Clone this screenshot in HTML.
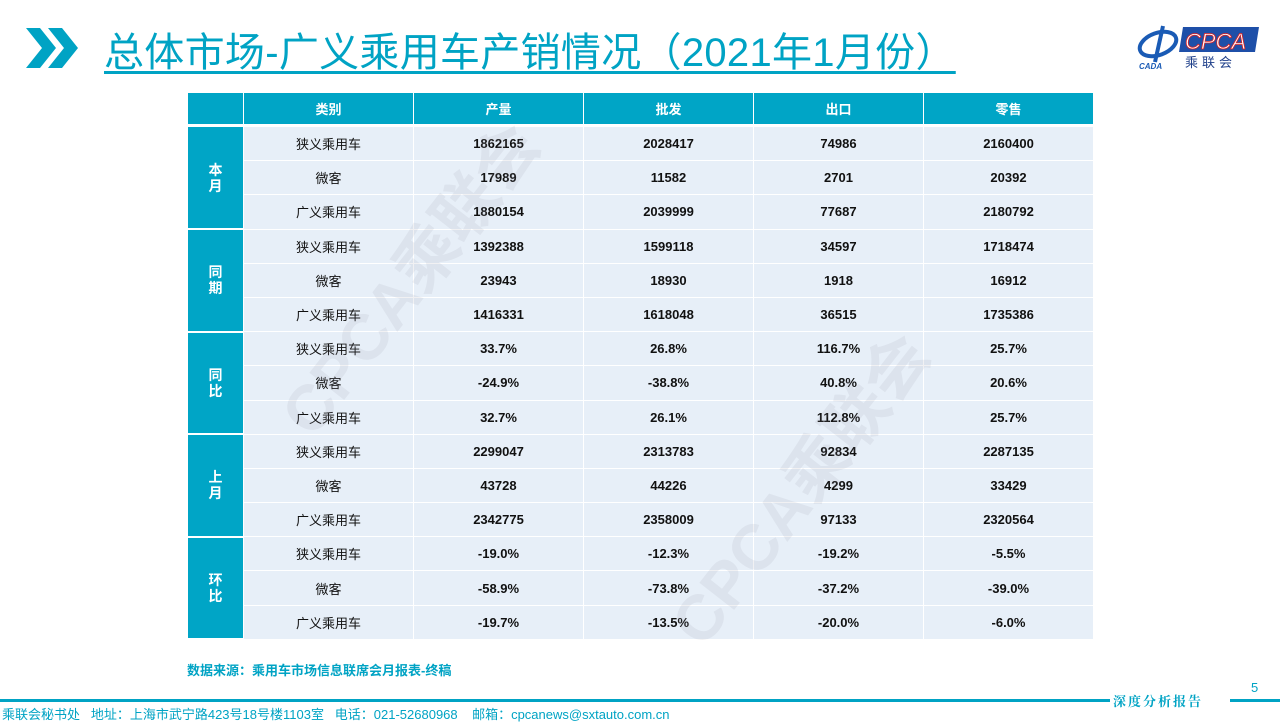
<!DOCTYPE html>
<html><head><meta charset="utf-8"><style>
body{margin:0;width:1280px;height:720px;background:#fff;position:relative;overflow:hidden;font-family:"Liberation Sans","Noto Sans CJK SC",sans-serif}
.title{position:absolute;left:104px;top:20px;font-size:40px;color:#00A3C4;text-decoration:underline;text-decoration-thickness:3px;text-underline-offset:5px;white-space:nowrap;letter-spacing:0.3px}
.chev{position:absolute;left:26px;top:28px}
table{position:absolute;left:187px;top:92px;border-collapse:collapse;table-layout:fixed}
td{border:1px solid #fff;text-align:center;font-size:13px;color:#111;padding:0;background:#E7EFF8}
td.n{font-weight:bold}
tr.h td{background:#00A5C6;color:#fff;font-weight:bold;height:31px;border-bottom:3px solid #fff}
td.g{background:#00A5C6;color:#fff;font-weight:bold;font-size:14px;line-height:16px;border-bottom:2px solid #fff}
tr.b td{height:33.2px}
.wm{position:absolute;font-size:64px;font-weight:bold;color:rgba(150,150,160,0.13);transform:rotate(-52deg);white-space:nowrap;z-index:5}
.src{position:absolute;left:187px;top:660px;font-size:13px;color:#00A3C4;font-weight:bold}
.foot{position:absolute;left:2px;top:704px;font-size:13px;color:#00A3C4;white-space:nowrap}
.line{position:absolute;top:699px;height:3px;background:#00A3C4}
.rep{position:absolute;left:1113px;top:691px;font-size:13px;color:#00A3C4;font-family:"Noto Serif CJK SC",serif;font-weight:bold;letter-spacing:2px}
.pg{position:absolute;left:1251px;top:680px;font-size:13px;color:#00A3C4}
</style></head><body>
<svg class="chev" width="60" height="40" viewBox="0 0 60 40"><polygon points="0,0 14,0 30,20 14,40 0,40 16,20" fill="#00A3C4"/><polygon points="22,0 36,0 52,20 36,40 22,40 38,20" fill="#00A3C4"/></svg>
<div class="title">总体市场-广义乘用车产销情况（2021年1月份）</div>
<svg style="position:absolute;left:1135px;top:22px" width="125" height="50" viewBox="0 0 125 50">
<ellipse cx="23" cy="22" rx="19" ry="11" fill="none" stroke="#1a5bb5" stroke-width="4" transform="rotate(-20 23 22)"/>
<path d="M28 4 L20 40" stroke="#1a5bb5" stroke-width="4"/>
<text x="4" y="47" font-size="8" font-style="italic" font-weight="bold" fill="#1a5bb5" font-family="Liberation Sans">CADA</text>
<polygon points="48,5 124,5 120,30 44,30" fill="#1e4fa8"/>
<text x="50" y="27" font-size="22" font-style="italic" fill="#fff" stroke="#d22" stroke-width="0.8" font-family="Liberation Sans">CPCA</text>
<text x="50" y="45" font-size="13" fill="#1e3f8a" letter-spacing="4" font-family="Noto Sans CJK SC">乘联会</text>
</svg>
<table>
<colgroup><col style="width:56px"><col style="width:170px"><col style="width:170px"><col style="width:170px"><col style="width:170px"><col style="width:170px"></colgroup>
<tr class="h"><td></td><td>类别</td><td>产量</td><td>批发</td><td>出口</td><td>零售</td></tr>
<tr class="b"><td class="g" rowspan="3">本<br>月</td><td>狭义乘用车</td><td class="n">1862165</td><td class="n">2028417</td><td class="n">74986</td><td class="n">2160400</td></tr>
<tr class="b"><td>微客</td><td class="n">17989</td><td class="n">11582</td><td class="n">2701</td><td class="n">20392</td></tr>
<tr class="b"><td>广义乘用车</td><td class="n">1880154</td><td class="n">2039999</td><td class="n">77687</td><td class="n">2180792</td></tr>
<tr class="b"><td class="g" rowspan="3">同<br>期</td><td>狭义乘用车</td><td class="n">1392388</td><td class="n">1599118</td><td class="n">34597</td><td class="n">1718474</td></tr>
<tr class="b"><td>微客</td><td class="n">23943</td><td class="n">18930</td><td class="n">1918</td><td class="n">16912</td></tr>
<tr class="b"><td>广义乘用车</td><td class="n">1416331</td><td class="n">1618048</td><td class="n">36515</td><td class="n">1735386</td></tr>
<tr class="b"><td class="g" rowspan="3">同<br>比</td><td>狭义乘用车</td><td class="n">33.7%</td><td class="n">26.8%</td><td class="n">116.7%</td><td class="n">25.7%</td></tr>
<tr class="b"><td>微客</td><td class="n">-24.9%</td><td class="n">-38.8%</td><td class="n">40.8%</td><td class="n">20.6%</td></tr>
<tr class="b"><td>广义乘用车</td><td class="n">32.7%</td><td class="n">26.1%</td><td class="n">112.8%</td><td class="n">25.7%</td></tr>
<tr class="b"><td class="g" rowspan="3">上<br>月</td><td>狭义乘用车</td><td class="n">2299047</td><td class="n">2313783</td><td class="n">92834</td><td class="n">2287135</td></tr>
<tr class="b"><td>微客</td><td class="n">43728</td><td class="n">44226</td><td class="n">4299</td><td class="n">33429</td></tr>
<tr class="b"><td>广义乘用车</td><td class="n">2342775</td><td class="n">2358009</td><td class="n">97133</td><td class="n">2320564</td></tr>
<tr class="b"><td class="g" rowspan="3">环<br>比</td><td>狭义乘用车</td><td class="n">-19.0%</td><td class="n">-12.3%</td><td class="n">-19.2%</td><td class="n">-5.5%</td></tr>
<tr class="b"><td>微客</td><td class="n">-58.9%</td><td class="n">-73.8%</td><td class="n">-37.2%</td><td class="n">-39.0%</td></tr>
<tr class="b"><td>广义乘用车</td><td class="n">-19.7%</td><td class="n">-13.5%</td><td class="n">-20.0%</td><td class="n">-6.0%</td></tr>
</table>
<div class="wm" style="left:220px;top:230px">CPCA乘联会</div>
<div class="wm" style="left:610px;top:440px">CPCA乘联会</div>
<div class="src">数据来源：乘用车市场信息联席会月报表-终稿</div>
<div class="line" style="left:0;width:1110px"></div>
<div class="line" style="left:1230px;width:50px"></div>
<div class="rep">深度分析报告</div>
<div class="pg">5</div>
<div class="foot">乘联会秘书处&nbsp;&nbsp;&nbsp;地址：上海市武宁路423号18号楼1103室&nbsp;&nbsp;&nbsp;电话：021-52680968&nbsp;&nbsp;&nbsp;&nbsp;邮箱：cpcanews@sxtauto.com.cn</div>
</body></html>
